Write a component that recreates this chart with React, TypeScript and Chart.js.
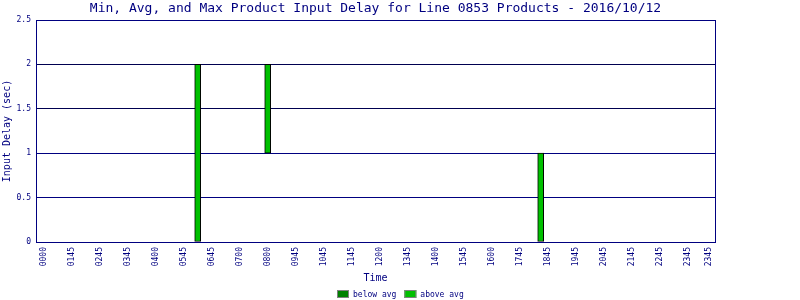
import React, { useEffect, useRef } from "react";
import { Chart, registerables } from "chart.js";

Chart.register(...registerables);

// 15-minute time slots (0..95) that hold data
const dataSlots: number[] = [22, 32, 71];
const minDelay: number[] = [0, 1, 0];
const avgDelay: number[] = [0, 1, 0];
const maxDelay: number[] = [2, 2, 1];

// x tick labels and the slots they sit on
const tickSlots: number[] = [0, 4, 8, 12, 16, 20, 24, 28, 32, 36, 40, 44, 48, 52, 56, 60, 64, 68, 72, 76, 80, 84, 88, 92, 95];
const tickLabels: string[] = [
  "0000", "0145", "0245", "0345", "0400", "0545", "0645", "0700", "0800", "0945",
  "1045", "1145", "1200", "1345", "1400", "1545", "1600", "1745", "1845", "1945",
  "2045", "2145", "2245", "2345", "2345",
];
const yTicks: number[] = [0, 0.5, 1, 1.5, 2, 2.5];

const titleText = "Min, Avg, and Max Product Input Delay for Line 0853 Products - 2016/10/12";
const legendLabels: string[] = ["below avg", "above avg"];
const legendColors: string[] = ["#008000", "#00C000"];

const NAVY = "#000080";
const MONO = "'DejaVu Sans Mono', monospace";

const decor = {
  id: "decor",
  afterDraw(chart: any) {
    const { ctx, chartArea, width } = chart;
    ctx.save();
    // plot frame
    ctx.strokeStyle = NAVY;
    ctx.lineWidth = 1;
    ctx.strokeRect(Math.round(chartArea.left) + 0.5, Math.round(chartArea.top) + 0.5,
      Math.round(chartArea.right - chartArea.left), Math.round(chartArea.bottom - chartArea.top));
    // title
    ctx.fillStyle = NAVY;
    ctx.font = `13px ${MONO}`;
    ctx.textAlign = "center";
    ctx.textBaseline = "middle";
    ctx.fillText(titleText, (chartArea.left + chartArea.right) / 2, 9);
    // legend
    ctx.font = `8px ${MONO}`;
    ctx.textAlign = "left";
    const widths = legendLabels.map((t) => 12 + 4 + ctx.measureText(t).width);
    const gap = 8;
    const total = widths.reduce((a, b) => a + b, 0) + gap * (widths.length - 1);
    let x = Math.round(width / 2 - total / 2);
    const y = 290;
    legendLabels.forEach((t, i) => {
      ctx.fillStyle = legendColors[i];
      ctx.fillRect(x, y, 12, 8);
      ctx.strokeStyle = "#808080";
      ctx.strokeRect(x + 0.5, y + 0.5, 11, 7);
      ctx.fillStyle = NAVY;
      ctx.fillText(t, x + 16, y + 4.5);
      x += widths[i] + gap;
    });
    ctx.restore();
  },
};

export default function App() {
  const ref = useRef<HTMLCanvasElement>(null);
  useEffect(() => {
    document.body.style.margin = "0";
    const below = dataSlots.map((s, i) => ({ x: s, y: avgDelay[i] > minDelay[i] ? [minDelay[i], avgDelay[i]] : null }));
    const above = dataSlots.map((s, i) => ({ x: s, y: [avgDelay[i], maxDelay[i]] }));
    const chart = new Chart(ref.current as HTMLCanvasElement, {
      type: "bar",
      data: {
        datasets: [
          { label: legendLabels[0], data: below as any, backgroundColor: legendColors[0], borderColor: "#000000", borderWidth: 1, borderSkipped: false, barThickness: 6, grouped: false } as any,
          { label: legendLabels[1], data: above as any, backgroundColor: legendColors[1], borderColor: "#000000", borderWidth: 1, borderSkipped: false, barThickness: 6, grouped: false } as any,
        ],
      },
      plugins: [decor],
      options: {
        animation: false,
        responsive: false,
        layout: { padding: { left: 0, right: 85, top: 20, bottom: 12 } },
        plugins: {
          title: { display: false },
          legend: { display: false },
          tooltip: { enabled: false },
        },
        scales: {
          x: {
            type: "linear",
            offset: false,
            min: -1.1,
            max: 95.9,
            afterBuildTicks: (s: any) => { s.ticks = tickSlots.map((v) => ({ value: v })); },
            afterFit: (s: any) => { s.height = 46; },
            grid: { display: false, drawTicks: false },
            border: { display: true, color: NAVY },
            ticks: {
              autoSkip: false,
              minRotation: 90,
              maxRotation: 90,
              padding: 5,
              color: NAVY,
              font: { family: MONO, size: 8 },
              callback: (v: any) => { const i = tickSlots.indexOf(Number(v)); return i >= 0 ? tickLabels[i] : ""; },
            },
            title: { display: true, text: "Time", color: NAVY, font: { family: MONO, size: 10 }, padding: { top: 4, bottom: 4 } },
          },
          y: {
            min: 0,
            max: 2.5,
            afterBuildTicks: (s: any) => { s.ticks = yTicks.map((v) => ({ value: v })); },
            afterFit: (s: any) => { s.width = 36; },
            grid: {
              color: (c: any) => (c.tick && (c.tick.value === 2 || c.tick.value === 1.5) ? "#000050" : NAVY),
              drawTicks: false,
            },
            border: { display: true, color: NAVY },
            ticks: {
              padding: 5,
              color: NAVY,
              font: { family: MONO, size: 8 },
              callback: (v: any) => String(v),
            },
            title: { display: true, text: "Input Delay (sec)", color: NAVY, font: { family: MONO, size: 10 }, padding: { top: 1, bottom: 0 } },
          },
        },
      },
    });
    return () => chart.destroy();
  }, []);
  return (
    <div style={{ width: 800, height: 300, background: "#fff" }}>
      <canvas ref={ref} width={800} height={300} />
    </div>
  );
}
